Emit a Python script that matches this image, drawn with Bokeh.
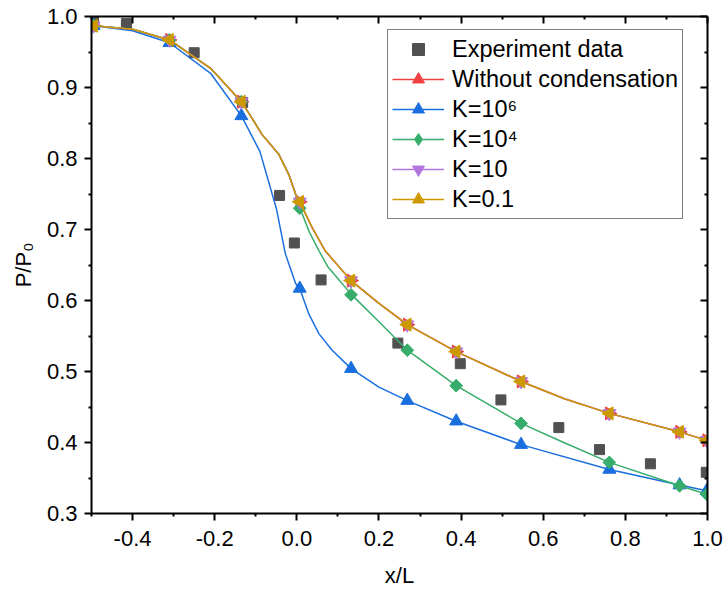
import math
from bokeh.plotting import figure
from bokeh.models import LinearAxis, FixedTicker, PrintfTickFormatter, Range1d
from bokeh.embed import file_html
from bokeh.resources import INLINE

# ---------------- data ----------------
exp_x = [-0.495, -0.415, -0.25, -0.132, -0.042, -0.006, 0.059, 0.246, 0.398, 0.497, 0.638, 0.737, 0.861, 0.997]
exp_y = [1.000, 0.990, 0.949, 0.879, 0.748, 0.681, 0.629, 0.540, 0.511, 0.460, 0.421, 0.390, 0.370, 0.358]

# marker positions of the model series
model_x = [-0.495, -0.31, -0.135, 0.007, 0.132, 0.269, 0.388, 0.546, 0.761, 0.932, 0.998]
nocond_y = [0.987, 0.967, 0.880, 0.739, 0.628, 0.566, 0.528, 0.486, 0.441, 0.415, 0.403]
k1e6_y = [0.987, 0.963, 0.860, 0.617, 0.504, 0.459, 0.430, 0.397, 0.362, 0.340, 0.332]
k1e4_y = [0.987, 0.967, 0.880, 0.730, 0.608, 0.530, 0.480, 0.427, 0.372, 0.339, 0.327]
k10_y = [0.987, 0.967, 0.880, 0.739, 0.628, 0.566, 0.528, 0.486, 0.441, 0.415, 0.403]
k01_y = [0.987, 0.967, 0.880, 0.739, 0.628, 0.566, 0.528, 0.486, 0.441, 0.415, 0.403]

# smooth curves
upper_cx = [-0.495, -0.40, -0.31, -0.21, -0.135, -0.105, -0.085, -0.044, -0.02, -0.003, 0.007, 0.037, 0.069, 0.132, 0.20, 0.269, 0.388, 0.546, 0.65, 0.761, 0.932, 0.998]
upper_cy = [0.987, 0.982, 0.967, 0.927, 0.880, 0.853, 0.834, 0.806, 0.778, 0.750, 0.739, 0.703, 0.670, 0.628, 0.596, 0.566, 0.528, 0.486, 0.462, 0.441, 0.415, 0.403]
k1e6_cx = [-0.495, -0.40, -0.31, -0.21, -0.135, -0.09, -0.05, -0.028, -0.003, 0.007, 0.03, 0.054, 0.086, 0.132, 0.20, 0.269, 0.388, 0.546, 0.761, 0.932, 0.998]
k1e6_cy = [0.987, 0.980, 0.963, 0.920, 0.860, 0.810, 0.730, 0.666, 0.624, 0.617, 0.580, 0.553, 0.530, 0.504, 0.478, 0.459, 0.430, 0.397, 0.362, 0.340, 0.332]
k1e4_cx = [-0.495, -0.40, -0.31, -0.21, -0.135, -0.105, -0.085, -0.044, -0.02, -0.003, 0.007, 0.03, 0.054, 0.075, 0.132, 0.20, 0.269, 0.388, 0.546, 0.65, 0.761, 0.932, 0.998]
k1e4_cy = [0.987, 0.982, 0.967, 0.927, 0.880, 0.853, 0.834, 0.806, 0.778, 0.750, 0.731, 0.697, 0.670, 0.648, 0.609, 0.570, 0.530, 0.480, 0.427, 0.400, 0.372, 0.339, 0.327]

x_ticks = [-0.4, -0.2, 0.0, 0.2, 0.4, 0.6, 0.8, 1.0]
x_minor = [-0.5, -0.3, -0.1, 0.1, 0.3, 0.5, 0.7, 0.9]
y_ticks = [0.3, 0.4, 0.5, 0.6, 0.7, 0.8, 0.9, 1.0]
y_minor = [0.35, 0.45, 0.55, 0.65, 0.75, 0.85, 0.95]

FONT = "Liberation Sans"
GRAY = "#515151"
RED = "#F14040"
BLUE = "#1A6FDF"
GREEN = "#37AD6B"
PURPLE = "#B177DE"
GOLD = "#CC9900"

p = figure(width=725, height=590, x_range=Range1d(-0.5, 1.0), y_range=Range1d(0.3, 1.0),
           output_backend="svg", toolbar_location=None,
           min_border_left=91, min_border_right=18, min_border_top=16, min_border_bottom=76)
p.outline_line_color = None
p.xgrid.visible = False
p.ygrid.visible = False
p.background_fill_color = "white"
p.border_fill_color = "white"


def style_axis(ax, labels=True, inward=False):
    ax.axis_line_color = "black"
    ax.axis_line_width = 2
    ax.major_tick_line_color = "black"
    ax.major_tick_line_width = 2
    ax.minor_tick_line_color = "black"
    ax.minor_tick_line_width = 2
    if inward:
        ax.major_tick_in = 7
        ax.major_tick_out = 0
        ax.minor_tick_in = 3
        ax.minor_tick_out = 0
    else:
        ax.major_tick_in = 0
        ax.major_tick_out = 7
        ax.minor_tick_in = 0
        ax.minor_tick_out = 3
    ax.major_label_text_font = FONT
    if labels:
        ax.major_label_text_color = "black"
        ax.major_label_text_font_size = "22px"
    else:
        ax.major_label_text_color = None
        ax.major_label_text_font_size = "1px"
        ax.major_label_standoff = 0
    ax.axis_label_text_font = FONT
    ax.axis_label_text_font_size = "22px"
    ax.axis_label_text_font_style = "normal"
    ax.axis_label_text_color = "black"


xb = p.xaxis[0]
xb.ticker = FixedTicker(ticks=x_ticks, minor_ticks=x_minor)
xb.formatter = PrintfTickFormatter(format="%.1f")
style_axis(xb)
xb.major_label_standoff = 10
xb.axis_label = "x/L"
xb.axis_label_standoff = 14

yl = p.yaxis[0]
yl.ticker = FixedTicker(ticks=y_ticks, minor_ticks=y_minor)
yl.formatter = PrintfTickFormatter(format="%.1f")
style_axis(yl)
yl.major_label_standoff = 7
yl.axis_label = "P/P\u2080"
yl.axis_label_standoff = 8

xt = LinearAxis(ticker=FixedTicker(ticks=x_ticks, minor_ticks=x_minor))
style_axis(xt, labels=False, inward=True)
p.add_layout(xt, "above")

yr = LinearAxis(ticker=FixedTicker(ticks=y_ticks, minor_ticks=y_minor))
style_axis(yr, labels=False, inward=True)
p.add_layout(yr, "right")

# experiment
p.scatter(exp_x, exp_y, marker="square", size=10, fill_color=GRAY, line_color=GRAY,
          legend_label="Experiment data")

# Without condensation
p.line(upper_cx, upper_cy, line_color=RED, line_width=1.5, legend_label="Without condensation")
p.scatter(model_x, nocond_y, marker="triangle", angle=-math.pi / 2, size=13,
          fill_color=RED, line_color=RED, legend_label="Without condensation")

# K=10^6
p.line(k1e6_cx, k1e6_cy, line_color=BLUE, line_width=1.5, legend_label="K=10\u2076")
p.scatter(model_x, k1e6_y, marker="triangle", size=13,
          fill_color=BLUE, line_color=BLUE, legend_label="K=10\u2076")

# K=10^4 (rotated squares in the plot; a hidden diamond renderer gives the legend glyph)
p.line(k1e4_cx, k1e4_cy, line_color=GREEN, line_width=1.5, legend_label="K=10\u2074")
p.scatter(model_x, k1e4_y, marker="square", angle=math.pi / 4, size=9,
          fill_color=GREEN, line_color=GREEN)
leg_dia = p.scatter(model_x, k1e4_y, marker="diamond", size=13,
                    fill_color=GREEN, line_color=GREEN, legend_label="K=10\u2074")
leg_dia.visible = False

# K=10
p.line(upper_cx, upper_cy, line_color=PURPLE, line_width=1.5, legend_label="K=10")
p.scatter(model_x, k10_y, marker="inverted_triangle", size=13,
          fill_color=PURPLE, line_color=PURPLE, legend_label="K=10")

# K=0.1
p.line(upper_cx, upper_cy, line_color=GOLD, line_width=1.5, legend_label="K=0.1")
p.scatter(model_x, k01_y, marker="triangle", angle=math.pi / 2, size=13,
          fill_color=GOLD, line_color=GOLD, legend_label="K=0.1")

lg = p.legend[0]
lg.location = (296, 294)
lg.click_policy = "none"
lg.label_text_font = FONT
lg.label_text_font_size = "23.5px"
lg.label_text_color = "black"
lg.label_height = 30
lg.glyph_height = 30
lg.glyph_width = 52
lg.label_standoff = 8
lg.spacing = 0
lg.padding = 4
lg.margin = 0
lg.border_line_color = "black"
lg.border_line_width = 1
lg.background_fill_color = "white"
lg.background_fill_alpha = 1.0

open("out.html", "w").write(file_html(p, INLINE))
